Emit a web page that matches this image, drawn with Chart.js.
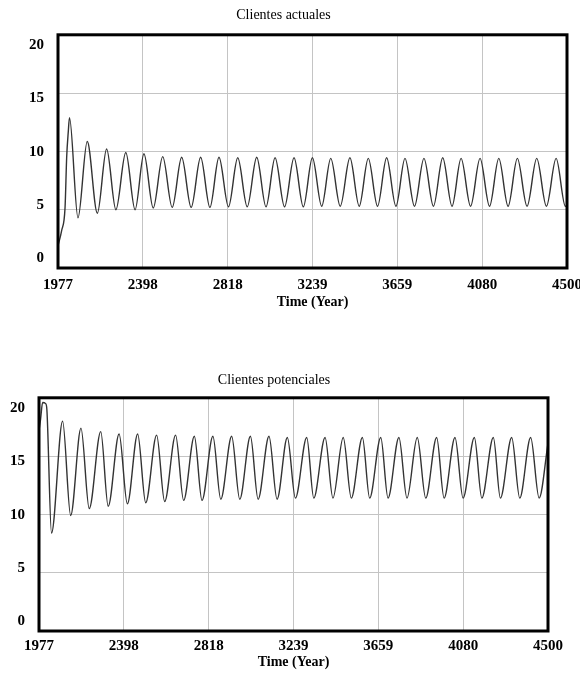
<!DOCTYPE html>
<html>
<head>
<meta charset="utf-8">
<script src="https://cdn.jsdelivr.net/npm/chart.js@4.4.1/dist/chart.umd.min.js"></script>
<style>
  body { margin: 0; background: #fff; }
  .box { position: absolute; left: 0; width: 580px; }
  #b1 { top: 0; height: 320px; }
  #b2 { top: 360px; height: 313px; }
</style>
</head>
<body>
<div class="box" id="b1"><canvas id="c1"></canvas></div>
<div class="box" id="b2"><canvas id="c2"></canvas></div>
<script>
// x axis ticks (Vensim style, evenly split 1977..4500)
const xTicks = [1977, 2397.5, 2818, 3238.5, 3659, 4079.5, 4500];
const xLabels = ['1977', '2398', '2818', '3239', '3659', '4080', '4500'];
const yTicks = [0, 5, 10, 15, 20];

// Clientes actuales: turning points
const years1 = [1977, 1995, 2012, 2020, 2028, 2034, 2076, 2122, 2172, 2218, 2264, 2313, 2359, 2403, 2449, 2496,
  2543, 2590, 2637, 2684, 2730, 2775, 2822, 2868, 2915, 2962, 3008, 3053, 3100, 3147, 3193, 3238, 3284, 3329,
  3376, 3424, 3470, 3515, 3561, 3606, 3652, 3697, 3744, 3791, 3838, 3884, 3930, 3975, 4022, 4069, 4116, 4162,
  4208, 4254, 4302, 4350, 4398, 4446, 4492, 4500];
const actuales = [1.9, 3.2, 5.2, 9.5, 11.7, 12.9, 4.3, 10.85, 4.7, 10.2, 5.0, 9.9, 5.0, 9.8, 5.15, 9.55,
  5.2, 9.5, 5.2, 9.5, 5.2, 9.5, 5.25, 9.45, 5.25, 9.5, 5.25, 9.45, 5.25, 9.45, 5.25, 9.45, 5.3, 9.4,
  5.3, 9.45, 5.3, 9.4, 5.3, 9.45, 5.3, 9.4, 5.3, 9.4, 5.3, 9.45, 5.3, 9.4, 5.3, 9.4, 5.3, 9.4,
  5.3, 9.4, 5.3, 9.4, 5.3, 9.4, 5.3, 5.35];

// Clientes potenciales
const years2 = [1977, 1985, 1995, 2010, 2016, 2039, 2094, 2134, 2185, 2226, 2283, 2320, 2374, 2415, 2466, 2506,
  2560, 2600, 2654, 2694, 2747, 2785, 2839, 2878, 2932, 2972, 3025, 3063, 3117, 3157, 3208, 3248, 3304, 3339,
  3395, 3434, 3485, 3525, 3580, 3616, 3671, 3707, 3761, 3801, 3852, 3894, 3948, 3985, 4039, 4079, 4135, 4172,
  4229, 4264, 4320, 4360, 4414, 4456, 4500];
const potenciales = [17.2, 18.2, 19.6, 19.5, 19.0, 8.4, 18.0, 9.9, 17.4, 10.5, 17.1, 10.7, 16.9, 10.9, 16.9, 11.0,
  16.8, 11.1, 16.8, 11.2, 16.7, 11.2, 16.7, 11.3, 16.7, 11.3, 16.7, 11.3, 16.7, 11.3, 16.6, 11.4, 16.6, 11.4,
  16.6, 11.4, 16.6, 11.4, 16.6, 11.4, 16.6, 11.4, 16.6, 11.4, 16.6, 11.4, 16.6, 11.4, 16.6, 11.4, 16.6, 11.4,
  16.6, 11.4, 16.6, 11.4, 16.6, 11.4, 16.1];

const serif = '"Liberation Serif", "Times New Roman", serif';
const tickFont = { family: serif, size: 15, weight: 'bold' };

const frame = {
  id: 'frame',
  afterDraw(chart) {
    const a = chart.chartArea, ctx = chart.ctx;
    ctx.save();
    ctx.strokeStyle = '#000';
    ctx.lineWidth = 3;
    ctx.strokeRect(a.left, a.top, a.right - a.left, a.bottom - a.top);
    ctx.restore();
  }
};

function makeChart(id, title, xs, ys, o) {
  new Chart(document.getElementById(id), {
    type: 'line',
    data: {
      datasets: [{
        data: xs.map((x, i) => ({ x: x, y: ys[i] })),
        borderColor: '#333',
        borderWidth: 1.4,
        pointRadius: 0,
        cubicInterpolationMode: 'monotone',
        fill: false
      }]
    },
    options: {
      responsive: true,
      maintainAspectRatio: false,
      animation: false,
      layout: { padding: { left: 0, right: o.right, top: 0, bottom: 0 } },
      plugins: {
        legend: { display: false },
        tooltip: { enabled: false },
        title: {
          display: true, text: title, color: '#000',
          font: { family: serif, size: 14, weight: 'normal' },
          padding: { top: o.titleTop, bottom: o.titleBottom }
        }
      },
      scales: {
        x: {
          type: 'linear', min: 1977, max: 4500,
          afterBuildTicks: s => { s.ticks = xTicks.map(v => ({ value: v })); },
          afterFit: s => { s.height = o.xHeight; s.paddingLeft = 0; s.paddingRight = 0; },
          grid: { color: '#c4c4c4', drawTicks: false },
          border: { display: false },
          ticks: {
            color: '#000', padding: o.xPad, maxRotation: 0, font: tickFont,
            callback: (v, i) => xLabels[i]
          },
          title: {
            display: true, text: 'Time (Year)', color: '#000',
            font: { family: serif, size: 14, weight: 'bold' },
            padding: { top: 0, bottom: o.xTitleBottom }
          }
        },
        y: {
          min: 0, max: 20,
          afterBuildTicks: s => { s.ticks = yTicks.map(v => ({ value: v })); },
          afterFit: s => { s.width = 0; s.paddingTop = 0; s.paddingBottom = 0; },
          grid: { color: '#c4c4c4', drawTicks: false },
          border: { display: false },
          ticks: { display: false }
        },
        // label-only axis: Vensim draws its value labels pulled slightly inside the frame
        yl: {
          position: 'left', min: -0.9, max: 20.95,
          afterBuildTicks: s => { s.ticks = yTicks.map(v => ({ value: v })); },
          afterFit: s => { s.width = o.left; s.paddingTop = 0; s.paddingBottom = 0; },
          grid: { display: false, drawTicks: false },
          border: { display: false },
          ticks: { color: '#000', padding: 14, font: tickFont }
        }
      }
    },
    plugins: [frame]
  });
}

makeChart('c1', 'Clientes actuales', years1, actuales,
  { left: 58, right: 13, titleTop: 7, titleBottom: 11, xHeight: 52, xPad: 8, xTitleBottom: 9 });
makeChart('c2', 'Clientes potenciales', years2, potenciales,
  { left: 39, right: 32, titleTop: 12, titleBottom: 9, xHeight: 42, xPad: 6, xTitleBottom: 2 });
</script>
</body>
</html>
